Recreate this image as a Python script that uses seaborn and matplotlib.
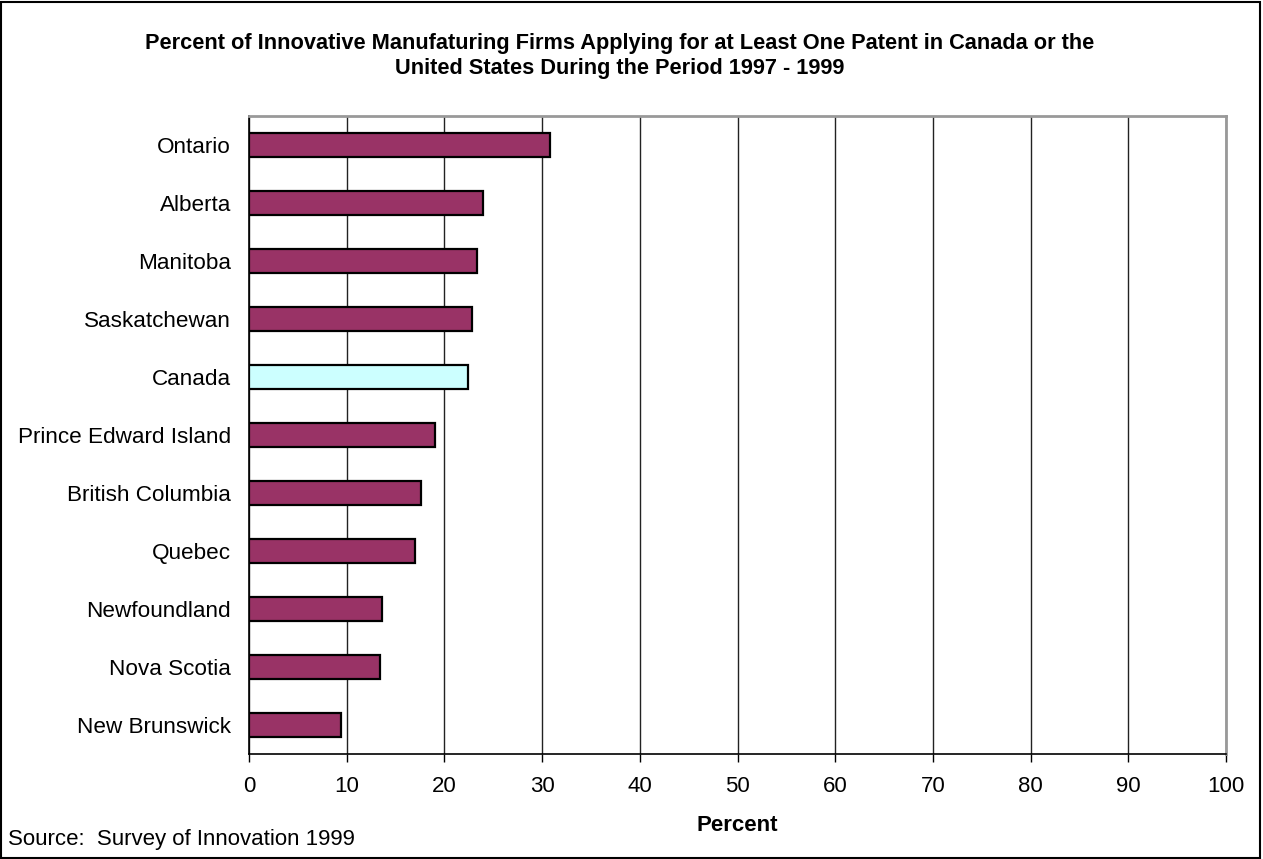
import matplotlib
matplotlib.use("Agg")
import matplotlib.pyplot as plt
import seaborn as sns
import pandas as pd
from matplotlib.patches import Rectangle

provinces = ["Ontario", "Alberta", "Manitoba", "Saskatchewan", "Canada",
             "Prince Edward Island", "British Columbia", "Quebec",
             "Newfoundland", "Nova Scotia", "New Brunswick"]
percent = [30.8, 24.0, 23.3, 22.8, 22.4, 19.0, 17.6, 17.0, 13.6, 13.4, 9.4]
x_ticks = [0, 10, 20, 30, 40, 50, 60, 70, 80, 90, 100]

title = ("Percent of Innovative Manufaturing Firms Applying for at Least One Patent in Canada or the\n"
         "United States During the Period 1997 - 1999")
source_note = "Source:  Survey of Innovation 1999"

sns.set_theme(style="white")
plt.rcParams["font.family"] = ["Liberation Sans", "DejaVu Sans"]
plt.rcParams["text.color"] = "black"
plt.rcParams["xtick.color"] = "black"
plt.rcParams["ytick.color"] = "black"
plt.rcParams["axes.labelcolor"] = "black"

df = pd.DataFrame({"province": provinces, "percent": percent})
palette = {p: ("#CCFFFF" if p == "Canada" else "#993366") for p in provinces}

fig = plt.figure(figsize=(12.63, 8.59), dpi=100)
ax = fig.add_axes([249 / 1263, 1 - 754 / 859, 977 / 1263, 638 / 859])

ax.set_axisbelow(True)
ax.xaxis.grid(True, color="#222222", linewidth=1.0)
sns.barplot(data=df, x="percent", y="province", hue="province", palette=palette,
            order=provinces, width=0.4, edgecolor="black", linewidth=1.6,
            saturation=1, legend=False, ax=ax, orient="h")

ax.set_xlim(0, 100)
ax.set_ylim(len(provinces) - 0.5, -0.5)
ax.set_xticks(x_ticks)
ax.set_xticklabels([str(t) for t in x_ticks])
ax.tick_params(axis="x", length=6, width=1, color="black", pad=10, labelsize=16,
               bottom=True)
ax.tick_params(axis="y", length=0, pad=13, labelsize=16.2)
ax.set_ylabel("")
ax.set_xlabel("Percent", fontsize=16, fontweight="bold", labelpad=13)

for side in ["left", "bottom"]:
    ax.spines[side].set_color("black")
    ax.spines[side].set_linewidth(1.2)
for side in ["top", "right"]:
    ax.spines[side].set_visible(True)
    ax.spines[side].set_color("#999999")
    ax.spines[side].set_linewidth(2.0)

fig.text(620 / 1263, 1 - 56 / 859, title, ha="center", va="center",
         fontsize=15.7, fontweight="bold", linespacing=1.2)
fig.text(8 / 1263, 1 - 840 / 859, source_note, ha="left", va="center", fontsize=16)

fig.patches.append(Rectangle((0.001, 0.001), 0.997, 0.997, transform=fig.transFigure,
                             fill=False, edgecolor="black", linewidth=1.5))

fig.savefig("out.png", dpi=100, facecolor="white")
